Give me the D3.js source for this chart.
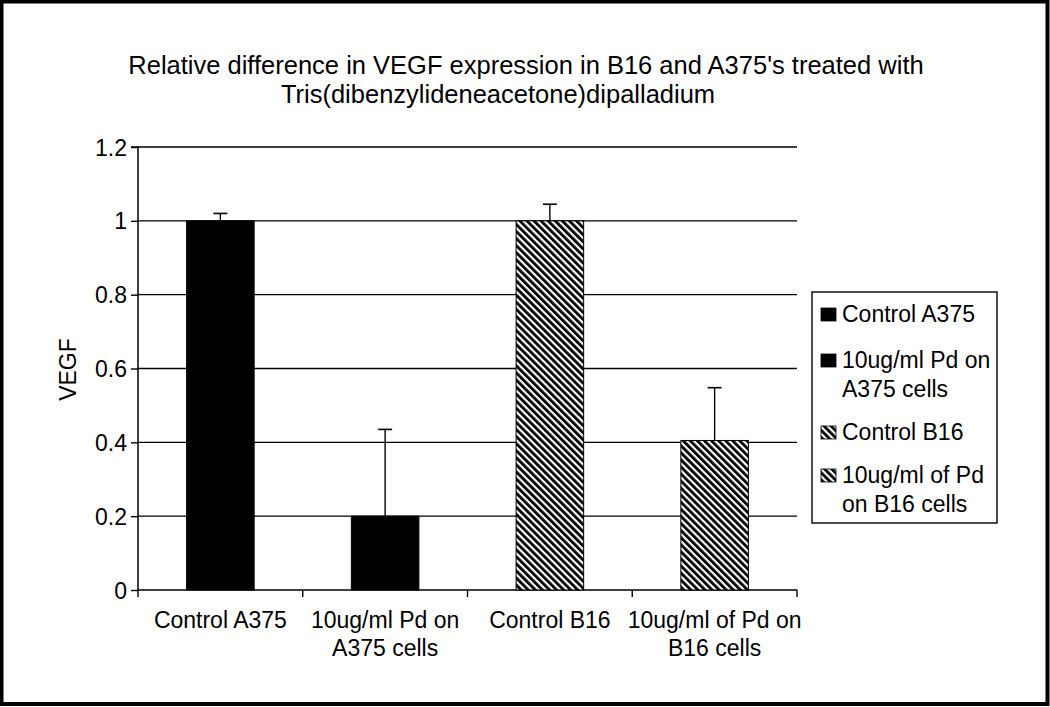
<!DOCTYPE html>
<html><head><meta charset="utf-8">
<script src="https://cdn.jsdelivr.net/npm/d3@7"></script>
<style>html,body{margin:0;padding:0;background:#fff;}svg{display:block;}</style>
</head><body>
<script>
const categories = [["Control A375"], ["10ug/ml Pd on", "A375 cells"], ["Control B16"], ["10ug/ml of Pd on", "B16 cells"]];
const legendLabels = [["Control A375"], ["10ug/ml Pd on", "A375 cells"], ["Control B16"], ["10ug/ml of Pd", "on B16 cells"]];
const values = [1.0, 0.2, 1.0, 0.405];
const errors = [0.02, 0.235, 0.045, 0.143];
const fills = ["solid", "solid", "hatch", "hatch"];
const yTicks = [0, 0.2, 0.4, 0.6, 0.8, 1, 1.2];
const yTickLabels = ["0", "0.2", "0.4", "0.6", "0.8", "1", "1.2"];
const titleLines = ["Relative difference in VEGF expression in B16 and A375's treated with", "Tris(dibenzylideneacetone)dipalladium"];
const yTitle = "VEGF";

const W = 1050, H = 707;
const FONT = "'Liberation Sans', Arial, Helvetica, sans-serif";
const FS = 23;
const svg = d3.select("body").append("svg").attr("width", W).attr("height", H);

const defs = svg.append("defs");
const pat = defs.append("pattern").attr("id", "hatch").attr("patternUnits", "userSpaceOnUse")
  .attr("width", 5).attr("height", 5).attr("patternTransform", "rotate(-45)");
pat.append("rect").attr("width", 5).attr("height", 5).attr("fill", "#fff");
pat.append("rect").attr("width", 2.8).attr("height", 5).attr("fill", "#000");
const fillOf = f => f === "solid" ? "#000" : "url(#hatch)";

svg.append("rect").attr("x", 1.5).attr("y", 1.5).attr("width", W - 4).attr("height", H - 4.5)
  .attr("fill", "#fff").attr("stroke", "#000").attr("stroke-width", 4);

// title
const tCenters = [526, 498];
titleLines.forEach((t, i) => {
  svg.append("text").attr("x", tCenters[i]).attr("y", 74 + i * 29).attr("text-anchor", "middle")
    .attr("font-family", FONT).attr("font-size", 25.5).text(t);
});

const x0 = 138, x1 = 797, yTop = 147, yBot = 590;
const x = d3.scaleBand().domain(d3.range(categories.length)).range([x0, x1]).padding(0);
const y = d3.scaleLinear().domain([0, 1.2]).range([yBot, yTop]);

const g = svg.append("g");
g.selectAll("line.grid").data(yTicks.filter(d => d > 0)).join("line")
  .attr("x1", x0).attr("x2", x1).attr("y1", d => y(d)).attr("y2", d => y(d))
  .attr("stroke", "#000").attr("stroke-width", 1.4);

const yAxis = d3.axisLeft(y).tickValues(yTicks).tickFormat((d, i) => yTickLabels[i]).tickSize(7).tickPadding(4);
const ya = svg.append("g").attr("transform", `translate(${x0},0)`).call(yAxis);
ya.select(".domain").attr("stroke", "#000").attr("stroke-width", 1.5).attr("d", `M-7,${yTop}H0V${yBot}`);
ya.selectAll(".tick line").attr("stroke", "#000").attr("stroke-width", 1.4);
ya.selectAll(".tick text").attr("font-family", FONT).attr("font-size", FS).attr("fill", "#000").attr("dy", "0.35em");

const xa = svg.append("g").attr("transform", `translate(0,${yBot})`);
xa.append("line").attr("x1", x0).attr("x2", x1).attr("stroke", "#000").attr("stroke-width", 1.5);
const bounds = d3.range(categories.length + 1).map(i => i < categories.length ? x(i) : x1);
xa.selectAll("line.tk").data(bounds).join("line").attr("class", "tk")
  .attr("x1", d => d).attr("x2", d => d).attr("y1", 0).attr("y2", 7)
  .attr("stroke", "#000").attr("stroke-width", 1.4);
categories.forEach((lines, i) => {
  const t = xa.append("text").attr("text-anchor", "middle").attr("font-family", FONT).attr("font-size", FS)
    .attr("x", x(i) + x.bandwidth() / 2).attr("y", 38);
  lines.forEach((l, j) => t.append("tspan").attr("x", x(i) + x.bandwidth() / 2).attr("dy", j === 0 ? 0 : 28).text(l));
});

const bw = x.bandwidth() * 0.41;
const cx = i => x(i) + x.bandwidth() / 2;
svg.selectAll("rect.bar").data(values).join("rect").attr("class", "bar")
  .attr("x", (d, i) => cx(i) - bw / 2).attr("width", bw)
  .attr("y", d => y(d)).attr("height", d => yBot - y(d))
  .attr("fill", (d, i) => fillOf(fills[i])).attr("stroke", "#000").attr("stroke-width", 1);

values.forEach((v, i) => {
  svg.append("line").attr("x1", cx(i)).attr("x2", cx(i)).attr("y1", y(v)).attr("y2", y(v + errors[i]))
    .attr("stroke", "#000").attr("stroke-width", 1.4);
  svg.append("line").attr("x1", cx(i) - 7).attr("x2", cx(i) + 7).attr("y1", y(v + errors[i])).attr("y2", y(v + errors[i]))
    .attr("stroke", "#000").attr("stroke-width", 1.6);
});

svg.append("text").attr("transform", `translate(76,${(yTop + yBot) / 2 + 1}) rotate(-90)`)
  .attr("text-anchor", "middle").attr("font-family", FONT).attr("font-size", FS).text(yTitle);

svg.append("rect").attr("x", 812).attr("y", 292).attr("width", 185).attr("height", 231)
  .attr("fill", "#fff").attr("stroke", "#000").attr("stroke-width", 1.4);
const legBase = [322, 368, 440, 483];
legendLabels.forEach((lines, i) => {
  svg.append("rect").attr("x", 821).attr("y", legBase[i] - 14).attr("width", 15).attr("height", 13)
    .attr("fill", fillOf(fills[i])).attr("stroke", "#000").attr("stroke-width", 0.8);
  const t = svg.append("text").attr("font-family", FONT).attr("font-size", FS).attr("x", 842).attr("y", legBase[i]);
  lines.forEach((l, j) => t.append("tspan").attr("x", 842).attr("dy", j === 0 ? 0 : 29).text(l));
});
</script>
</body></html>
